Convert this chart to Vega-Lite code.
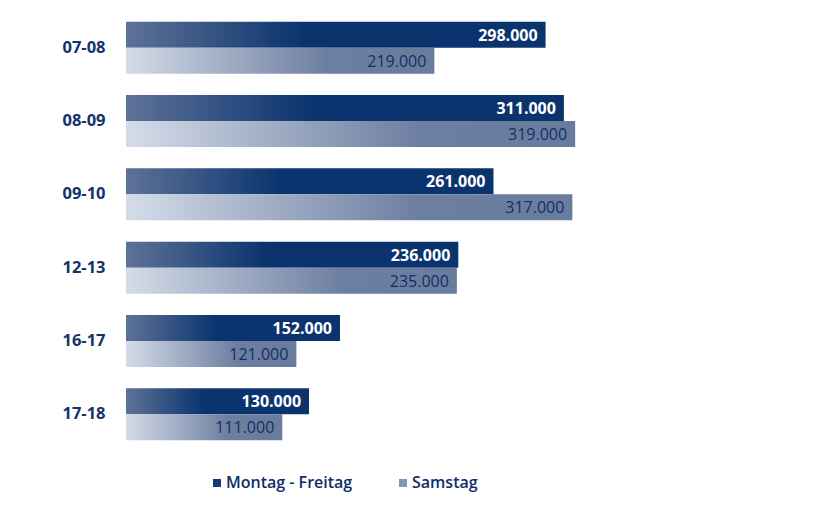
{
  "$schema": "https://vega.github.io/schema/vega-lite/v6.json",
  "width": 704,
  "height": 458,
  "autosize": {"type": "none"},
  "padding": {"left": 126, "top": 2, "right": 0, "bottom": 45},
  "background": "#ffffff",
  "config": {
    "view": {"stroke": null},
    "locale": {"number": {"decimal": ",", "thousands": ".", "grouping": [3], "currency": ["", " €"]}},
    "font": "Open Sans"
  },
  "data": {
    "values": [
      {"cat": "07-08", "series": "Montag - Freitag", "value": 298000},
      {"cat": "07-08", "series": "Samstag", "value": 219000},
      {"cat": "08-09", "series": "Montag - Freitag", "value": 311000},
      {"cat": "08-09", "series": "Samstag", "value": 319000},
      {"cat": "09-10", "series": "Montag - Freitag", "value": 261000},
      {"cat": "09-10", "series": "Samstag", "value": 317000},
      {"cat": "12-13", "series": "Montag - Freitag", "value": 236000},
      {"cat": "12-13", "series": "Samstag", "value": 235000},
      {"cat": "16-17", "series": "Montag - Freitag", "value": 152000},
      {"cat": "16-17", "series": "Samstag", "value": 121000},
      {"cat": "17-18", "series": "Montag - Freitag", "value": 130000},
      {"cat": "17-18", "series": "Samstag", "value": 111000}
    ]
  },
  "encoding": {
    "y": {
      "field": "cat",
      "type": "nominal",
      "sort": null,
      "title": null,
      "scale": {"paddingInner": 0.29, "paddingOuter": 0.27},
      "axis": {
        "ticks": false,
        "domain": false,
        "labelPadding": 21,
        "labelFont": "Open Sans",
        "labelFontSize": 16.5,
        "labelFontWeight": "bold",
        "labelColor": "#14336a"
      }
    },
    "yOffset": {
      "field": "series",
      "type": "nominal",
      "scale": {"domain": ["Montag - Freitag", "Samstag"], "paddingInner": 0, "paddingOuter": 0}
    },
    "x": {
      "field": "value",
      "type": "quantitative",
      "scale": {"domain": [0, 500000], "nice": false},
      "axis": null
    }
  },
  "layer": [
    {
      "transform": [{"filter": "datum.series === 'Montag - Freitag'"}],
      "mark": {
        "type": "bar",
        "fill": {
          "gradient": "linear",
          "x1": 0, "y1": 0, "x2": 1, "y2": 0,
          "stops": [
            {"offset": 0, "color": "#5e7297"},
            {"offset": 0.42, "color": "#0b346f"},
            {"offset": 1, "color": "#0b346f"}
          ]
        }
      }
    },
    {
      "transform": [{"filter": "datum.series === 'Samstag'"}],
      "mark": {
        "type": "bar",
        "fill": {
          "gradient": "linear",
          "x1": 0, "y1": 0, "x2": 1, "y2": 0,
          "stops": [
            {"offset": 0, "color": "#d4dce8"},
            {"offset": 0.65, "color": "#6d7fa1"},
            {"offset": 1, "color": "#6a7c9e"}
          ]
        }
      }
    },
    {
      "transform": [{"filter": "datum.series === 'Montag - Freitag'"}],
      "mark": {"type": "text", "align": "right", "baseline": "middle", "dx": -8, "dy": 1, "fill": "#ffffff", "font": "Open Sans", "fontSize": 16, "fontWeight": "bold"},
      "encoding": {"text": {"field": "value", "type": "quantitative", "format": ",d"}}
    },
    {
      "transform": [{"filter": "datum.series === 'Samstag'"}],
      "mark": {"type": "text", "align": "right", "baseline": "middle", "dx": -8, "dy": 1, "fill": "#122f66", "font": "Open Sans", "fontSize": 16, "fontWeight": 500},
      "encoding": {"text": {"field": "value", "type": "quantitative", "format": ",d"}}
    },
    {
      "mark": {"type": "point", "shape": "square", "filled": true, "opacity": 0, "size": 1},
      "encoding": {
        "color": {
          "field": "series",
          "type": "nominal",
          "scale": {"domain": ["Montag - Freitag", "Samstag"], "range": ["#163a72", "#8496b4"]},
          "legend": {
            "title": null,
            "orient": "none",
            "legendX": 83,
            "legendY": 473,
            "direction": "horizontal",
            "symbolType": "square",
            "symbolSize": 64,
            "symbolOpacity": 1,
            "symbolStrokeWidth": 0,
            "labelFont": "Open Sans",
            "labelFontSize": 16,
            "labelFontWeight": 600,
            "labelColor": "#0d2f66",
            "labelOffset": 1,
            "columnPadding": 42
          }
        }
      }
    }
  ]
}
